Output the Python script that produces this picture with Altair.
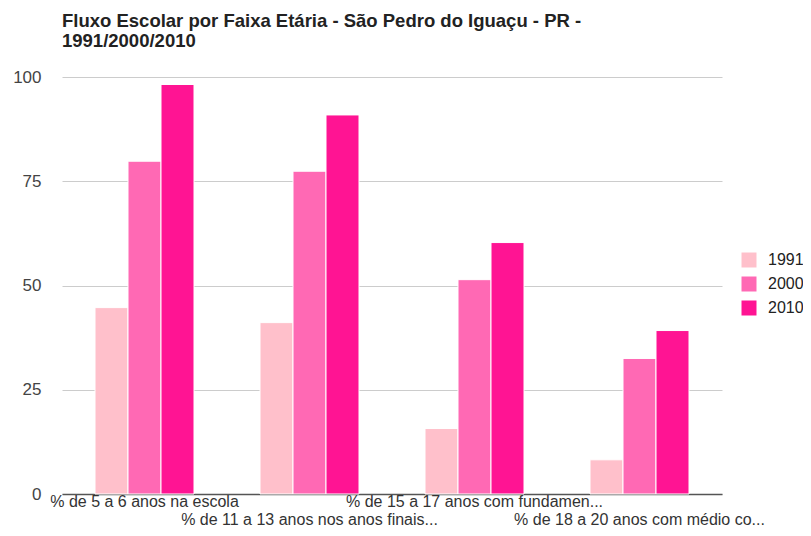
import altair as alt
import pandas as pd

categories = [
    "% de 5 a 6 anos na escola",
    "% de 11 a 13 anos nos anos finais...",
    "% de 15 a 17 anos com fundamen...",
    "% de 18 a 20 anos com médio co...",
]
years = ["1991", "2000", "2010"]
v1991 = [44.7, 41.1, 15.7, 8.2]
v2000 = [79.8, 77.4, 51.4, 32.5]
v2010 = [98.2, 90.9, 60.3, 39.2]
colors = ["#FFC0CB", "#FF69B4", "#FF1493"]
title_lines = ["Fluxo Escolar por Faixa Etária - São Pedro do Iguaçu - PR -", "1991/2000/2010"]
y_ticks = [0, 25, 50, 75, 100]

rows = []
for i, c in enumerate(categories):
    for y, vals in zip(years, [v1991, v2000, v2010]):
        rows.append({"cat": c, "year": y, "value": vals[i]})
df = pd.DataFrame(rows)
lab = pd.DataFrame({"cat": categories, "row": [0, 1, 0, 1]})

FONT = "Liberation Sans, Arial, sans-serif"
W, H = 660, 417

xscale = alt.Scale(domain=categories, paddingInner=0.4, paddingOuter=0.2)

bars = alt.Chart(df).mark_bar(stroke="white", strokeWidth=1).encode(
    x=alt.X("cat:N", scale=xscale, sort=categories,
            axis=alt.Axis(labels=False, ticks=False, title=None, domain=True,
                          domainColor="#555", domainWidth=1.5, grid=False)),
    xOffset=alt.XOffset("year:N", sort=years),
    y=alt.Y("value:Q", scale=alt.Scale(domain=[0, 100], nice=False),
            axis=alt.Axis(values=y_ticks, title=None, domain=False, ticks=False,
                          labelPadding=21, labelFontSize=17, labelColor="#444",
                          labelFont=FONT, gridColor="#ccc", gridWidth=1)),
    color=alt.Color("year:N", sort=years,
                    scale=alt.Scale(domain=years, range=colors),
                    legend=alt.Legend(title=None, orient="none", legendX=679, legendY=175,
                                      symbolType="square", symbolSize=225,
                                      symbolStrokeWidth=0, labelFontSize=16,
                                      labelFont=FONT, labelColor="#222",
                                      labelOffset=11, rowPadding=8)),
)

row0 = alt.Chart(lab).transform_filter("datum.row == 0").mark_text(
    baseline="alphabetic", align="center", fontSize=16, font=FONT, color="#333"
).encode(x=alt.X("cat:N", scale=xscale, sort=categories), y=alt.value(H + 13), text="cat:N")

row1 = alt.Chart(lab).transform_filter("datum.row == 1").mark_text(
    baseline="alphabetic", align="center", fontSize=16, font=FONT, color="#333"
).encode(x=alt.X("cat:N", scale=xscale, sort=categories), y=alt.value(H + 31), text="cat:N")

chart = alt.layer(bars, row0, row1).properties(
    width=W, height=H,
    autosize=alt.AutoSizeParams(type="none"),
    padding={"left": 54, "top": 69, "right": 81, "bottom": 34},
    title=alt.TitleParams(text=title_lines, anchor="start", frame="group",
                          fontSize=18.5, fontWeight="bold", font=FONT, color="#222",
                          lineHeight=20, offset=18),
).configure_view(stroke=None)

chart.save("out.html", embed_options={"renderer": "svg", "actions": False})
